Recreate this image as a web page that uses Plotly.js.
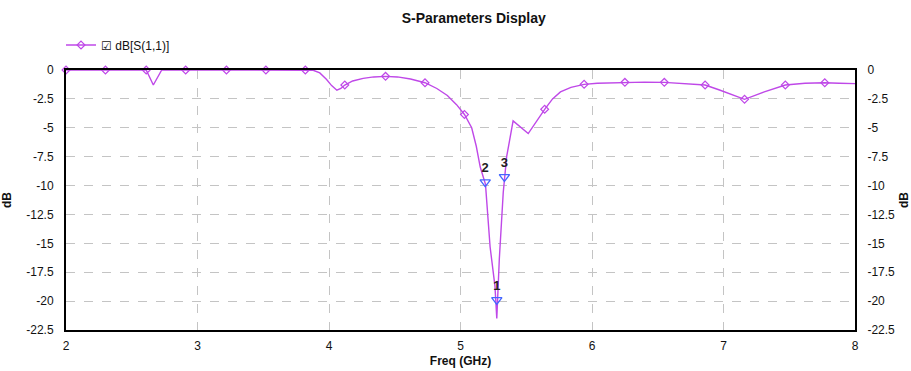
<!DOCTYPE html>
<html><head><meta charset="utf-8">
<script src="https://cdn.plot.ly/plotly-3.0.1.min.js"></script>
<style>html,body{margin:0;padding:0;background:#fff}#chart{width:911px;height:371px}</style>
</head><body><div id="chart"></div>
<script>
// S(1,1) sweep (GHz, dB)
const freqGHz = [2.00, 2.30, 2.61, 2.664, 2.728, 2.91, 3.22, 3.52, 3.82, 3.88, 3.93, 3.98, 4.02, 4.06, 4.09, 4.12, 4.18, 4.26, 4.34, 4.43, 4.52, 4.62, 4.73, 4.82, 4.90, 4.97, 5.03, 5.085, 5.12, 5.15, 5.19, 5.225, 5.262, 5.276, 5.295, 5.325, 5.351, 5.40, 5.515, 5.58, 5.64, 5.70, 5.76, 5.84, 5.94, 6.04, 6.25, 6.40, 6.55, 6.77, 6.86, 6.97, 7.16, 7.31, 7.47, 7.62, 7.77, 7.88, 8.00];
const s11dB   = [0, 0, 0, -1.3, 0, 0, 0, 0, 0, -0.02, -0.25, -0.8, -1.35, -1.75, -1.6, -1.3, -0.95, -0.72, -0.6, -0.55, -0.6, -0.78, -1.1, -1.6, -2.2, -3.0, -3.85, -5.0, -6.6, -8.4, -9.9, -15.3, -18.7, -21.5, -16.4, -10.6, -7.5, -4.4, -5.5, -4.4, -3.4, -2.5, -1.9, -1.5, -1.24, -1.15, -1.07, -1.05, -1.07, -1.2, -1.3, -1.73, -2.54, -1.9, -1.3, -1.15, -1.1, -1.15, -1.18];
// trace symbol positions (every N sweep points)
const symbolFreqGHz = [2.00, 2.30, 2.61, 2.91, 3.22, 3.52, 3.82, 4.12, 4.43, 4.73, 5.03, 5.64, 5.94, 6.25, 6.55, 6.86, 7.16, 7.47, 7.77];
// numbered markers
const mkLabels = ['1', '2', '3'];
const mkFreqGHz = [5.276, 5.188, 5.334];
const mkDb = [-19.9, -9.7, -9.25];
const xTicks = [2, 3, 4, 5, 6, 7, 8];
const yTicks = [0, -2.5, -5, -7.5, -10, -12.5, -15, -17.5, -20, -22.5];
const traceName = 'dB[S(1,1)]';

const symbolDb = symbolFreqGHz.map(f => s11dB[freqGHz.indexOf(f)]);
const lineColor = '#bf48e8';
const font = 'Liberation Sans, Arial, sans-serif';
const yText = yTicks.map(v => String(v));

const data = [
  {x: freqGHz, y: s11dB, type: 'scatter', mode: 'lines', line: {color: lineColor, width: 1.4}, showlegend: false, hoverinfo: 'skip'},
  {x: symbolFreqGHz, y: symbolDb, type: 'scatter', mode: 'markers', cliponaxis: false,
   marker: {symbol: 'diamond-open', size: 6, color: lineColor, line: {width: 1.2}}, showlegend: false},
  {x: [null], y: [null], type: 'scatter', mode: 'lines+markers', name: '\u2611 ' + traceName,
   line: {color: lineColor, width: 1.4}, marker: {symbol: 'diamond-open', size: 6, color: lineColor, line: {width: 1.2}}},
  {x: mkFreqGHz, y: mkDb, type: 'scatter', mode: 'markers+text', text: mkLabels.map(s => '<b>' + s + '</b>'), textposition: 'top center',
   textfont: {family: font, size: 13, color: '#222'}, cliponaxis: false,
   marker: {symbol: 'triangle-down-open', size: 9, color: '#4466ff', line: {width: 1.3}}, showlegend: false, yaxis: 'y2'}
];

const layout = {
  width: 911, height: 371,
  margin: {l: 66, r: 56, t: 70, b: 41},
  paper_bgcolor: '#fff', plot_bgcolor: '#fff',
  font: {family: font, size: 12, color: '#111'},
  title: {text: '<b>S-Parameters Display</b>', font: {family: font, size: 14, color: '#111'},
          x: 0.52, xanchor: 'center', y: 0.951, yanchor: 'middle'},
  showlegend: true,
  legend: {orientation: 'h', xref: 'container', yref: 'container', x: 61 / 911, xanchor: 'left',
           y: 1 - 45 / 371, yanchor: 'middle', font: {family: font, size: 12, color: '#111'},
           bgcolor: 'rgba(0,0,0,0)', borderwidth: 0},
  xaxis: {range: [2, 8], tickvals: xTicks, ticktext: xTicks.map(String), showgrid: true,
          gridcolor: '#c4c4c4', griddash: 'dash', gridwidth: 1, zeroline: false,
          showline: true, linecolor: '#000', linewidth: 2, mirror: true, ticks: '',
          ticklabelstandoff: 4,
          title: {text: '<b>Freq (GHz)</b>', font: {family: font, size: 12, color: '#111'}, standoff: 4}},
  yaxis: {range: [-22.5, 0], tickvals: yTicks, ticktext: yText, showgrid: true,
          gridcolor: '#c4c4c4', griddash: 'dash', gridwidth: 1, zeroline: false,
          showline: true, linecolor: '#000', linewidth: 2, mirror: true, ticks: '',
          ticklabelstandoff: 8,
          title: {text: '<b>dB</b>', font: {family: font, size: 12, color: '#111'}, standoff: 14}},
  yaxis2: {range: [-22.5, 0], tickvals: yTicks, ticktext: yText, overlaying: 'y', side: 'right',
           showgrid: false, zeroline: false, showline: true, linecolor: '#000', linewidth: 2, ticks: '',
           ticklabelstandoff: 8,
           title: {text: '<b>dB</b>', font: {family: font, size: 12, color: '#111'}, standoff: 14}}
};

Plotly.newPlot('chart', data, layout, {displayModeBar: false, staticPlot: true});
</script>
</body></html>
